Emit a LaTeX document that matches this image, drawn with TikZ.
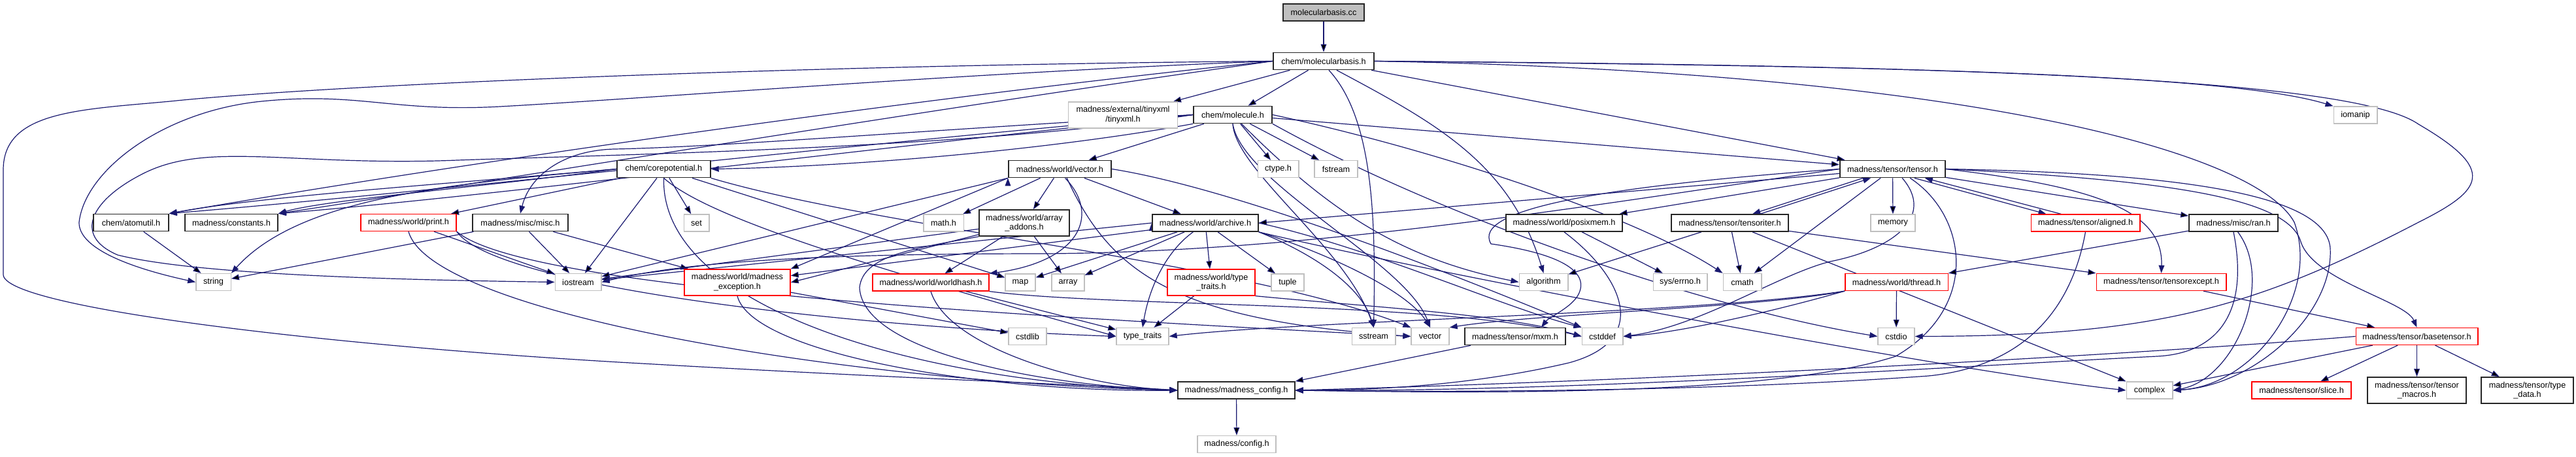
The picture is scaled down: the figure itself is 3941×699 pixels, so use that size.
\documentclass[tikz,border=0pt]{standalone}
\usepackage{fontspec}
\setmainfont{Liberation Sans}
\usetikzlibrary{arrows.meta}
\definecolor{edgeblue}{HTML}{191970}
\definecolor{sysgray}{HTML}{BFBFBF}
\pgfdeclarelayer{edges}
\pgfsetlayers{edges,main}
\tikzset{
  box/.style={fill=white,line width=1pt,inner sep=2pt,minimum height=19.5pt,align=center,font=\fontsize{9.5}{11}\selectfont},
  hdr/.style={box,draw=black!85,line width=1.3pt},
  sys/.style={box,draw=sysgray},
  undoc/.style={box,draw=red},
  root/.style={box,draw=black!85,line width=1.3pt,fill=sysgray},
  two/.style={minimum height=30pt},
  dep/.style={draw=edgeblue,line width=0.9pt,-{Triangle[length=9pt,width=6.5pt]}}
}
\begin{document}
\begin{tikzpicture}[x=0.75pt,y=0.75pt]
\useasboundingbox (0,0) rectangle (3941,-699);
\node[root,minimum width=93pt] (cc) at (2025,-19) {molecularbasis.cc};
\node[hdr,minimum width=115.5pt] (mbh) at (2025,-93.5) {chem/molecularbasis.h};
\node[sys,two,minimum width=125pt] (tinyxml) at (1718,-176) {madness/external/tinyxml\\/tinyxml.h};
\node[hdr,minimum width=90pt] (mol) at (1886,-175.5) {chem/molecule.h};
\node[sys,minimum width=50pt] (iomanip) at (3603.5,-176) {iomanip};
\node[hdr,minimum width=107pt] (core) at (1015.5,-258.5) {chem/corepotential.h};
\node[hdr,minimum width=118pt] (wvec) at (1621.5,-258.5) {madness/world/vector.h};
\node[sys,minimum width=47pt] (ctype) at (1955.5,-258.5) {ctype.h};
\node[sys,minimum width=49.5pt] (fstream) at (2044,-258.5) {fstream};
\node[hdr,minimum width=121pt] (tensor) at (2895.5,-258.5) {madness/tensor/tensor.h};
\node[hdr,minimum width=86pt] (atomutil) at (200.5,-340.5) {chem/atomutil.h};
\node[hdr,minimum width=106.5pt] (constants) at (354,-340.5) {madness/constants.h};
\node[undoc,minimum width=109.5pt] (print) at (625,-340.5) {madness/world/print.h};
\node[hdr,minimum width=109.5pt] (misc) at (796,-340.5) {madness/misc/misc.h};
\node[sys,minimum width=29pt] (set) at (1065.5,-341) {set};
\node[sys,minimum width=46pt] (math) at (1443.5,-341) {math.h};
\node[hdr,two,minimum width=103.5pt] (addons) at (1567,-341) {madness/world/array\\\_addons.h};
\node[hdr,minimum width=121.5pt] (archive) at (1844,-341) {madness/world/archive.h};
\node[hdr,minimum width=133.5pt] (posixmem) at (2393,-341) {madness/world/posixmem.h};
\node[hdr,minimum width=134pt] (tensoriter) at (2646.5,-341) {madness/tensor/tensoriter.h};
\node[sys,minimum width=51pt] (memory) at (2896,-341) {memory};
\node[undoc,minimum width=125pt] (aligned) at (3190.5,-341) {madness/tensor/aligned.h};
\node[hdr,minimum width=102pt] (ran) at (3417,-341) {madness/misc/ran.h};
\node[sys,minimum width=40pt] (string) at (326.5,-431.5) {string};
\node[sys,minimum width=53pt] (iostream) at (884.5,-431.5) {iostream};
\node[undoc,two,minimum width=121.5pt] (except) at (1128,-432) {madness/world/madness\\\_exception.h};
\node[undoc,minimum width=133.5pt] (worldhash) at (1424,-432) {madness/world/worldhash.h};
\node[sys,minimum width=34.5pt] (map) at (1561,-432) {map};
\node[sys,minimum width=37.5pt] (array) at (1634,-432) {array};
\node[undoc,two,minimum width=100.5pt] (wtraits) at (1853,-432) {madness/world/type\\\_traits.h};
\node[sys,minimum width=37.5pt] (tuple) at (1970,-432) {tuple};
\node[sys,minimum width=56pt] (algorithm) at (2361.5,-431.5) {algorithm};
\node[sys,minimum width=62pt] (errno) at (2570.5,-431.5) {sys/errno.h};
\node[sys,minimum width=44pt] (cmath) at (2665.5,-431.5) {cmath};
\node[undoc,minimum width=118pt] (thread) at (2901.5,-431.5) {madness/world/thread.h};
\node[undoc,minimum width=149pt] (tensorexcept) at (3306.5,-431.5) {madness/tensor/tensorexcept.h};
\node[sys,minimum width=43.5pt] (cstdlib) at (1572,-514.5) {cstdlib};
\node[sys,minimum width=60pt] (typetraits) at (1748,-514.5) {type\_traits};
\node[sys,minimum width=50pt] (sstream) at (2101.5,-514.5) {sstream};
\node[sys,minimum width=43.5pt] (vector) at (2188,-514.5) {vector};
\node[hdr,minimum width=115.5pt] (mxm) at (2318,-514.5) {madness/tensor/mxm.h};
\node[sys,minimum width=47pt] (cstddef) at (2451.5,-514.5) {cstddef};
\node[sys,minimum width=42pt] (cstdio) at (2901,-514.5) {cstdio};
\node[undoc,minimum width=140pt] (basetensor) at (3697.5,-514.5) {madness/tensor/basetensor.h};
\node[hdr,minimum width=134pt] (config) at (1891.5,-597) {madness/madness\_config.h};
\node[sys,minimum width=53pt] (complex) at (3288.5,-597) {complex};
\node[undoc,minimum width=114pt] (slice) at (3521,-597) {madness/tensor/slice.h};
\node[hdr,two,minimum width=113pt] (macros) at (3697.5,-597) {madness/tensor/tensor\\\_macros.h};
\node[hdr,two,minimum width=106pt] (typedata) at (3866.5,-597) {madness/tensor/type\\\_data.h};
\node[sys,minimum width=90pt] (madconfig) at (1892,-679.5) {madness/config.h};

\begin{pgfonlayer}{edges}
\path[dep] (cc) edge (mbh);
\path[dep] (mbh) edge (mol) edge (tinyxml) edge (tensor);
\draw[dep] ([xshift=15pt]mbh.south) .. controls (2200,-190) and (2310,-250) .. (algorithm.north);
\draw[dep] (mbh.west) .. controls (1400,-150) and (700,-250) .. (atomutil.north east);
\draw[dep] (mbh.west) .. controls (1400,-170) and (800,-270) .. (constants.north east);
\draw[dep] (mbh.east) .. controls (2800,-100) and (3400,-110) .. (iomanip.north west);
\draw[dep] ([xshift=6pt]mbh.south) .. controls (2100,-180) and (2105,-330) .. (sstream.north);
\draw[dep] (mbh.east) .. controls (3000,-100) and (3600,-120) .. (3700,-190) .. controls (3820,-260) and (3800,-290) .. (3700,-340) .. controls (3450,-470) and (3300,-514) .. (cstdio.east);
\draw[dep] (mbh.east) .. controls (3000,-110) and (3450,-230) .. (3510,-340) .. controls (3550,-450) and (3450,-590) .. (complex.east);
\draw[dep] (mbh.west) .. controls (1200,-100) and (500,-130) .. (260,-155) .. controls (120,-168) and (5,-170) .. (5,-260) -- (5,-420) .. controls (5,-470) and (500,-530) .. (1000,-557) .. controls (1400,-580) and (1700,-590) .. (config.west);
\draw[dep] (mbh.west) .. controls (1500,-110) and (1000,-150) .. (765,-163) .. controls (600,-172) and (550,-140) .. (400,-155) .. controls (250,-170) and (130,-260) .. (121,-340) .. controls (120,-380) and (200,-410) .. (string.west);

\path[dep] (mol) edge (wvec) edge (ctype) edge (fstream) edge (tensor);
\draw[dep] (mol.east) .. controls (2200,-230) and (2500,-330) .. (cmath.north west);
\draw[dep] ([xshift=10pt]mol.south) .. controls (2030,-320) and (2140,-395) .. (algorithm.west);
\draw[dep] (mol.south east) .. controls (2200,-330) and (2600,-470) .. (cstdio.west);
\draw[dep] (mol.south west) .. controls (1600,-230) and (1300,-255) .. (core.east);
\draw[dep] (mol.west) .. controls (1300,-220) and (700,-290) .. (atomutil.north east);
\draw[dep] (mol.west) .. controls (1300,-230) and (750,-300) .. (constants.north east);
\draw[dep] (mol.west) .. controls (1400,-200) and (1100,-225) .. (940,-228) .. controls (860,-230) and (810,-270) .. (misc.north);
\draw[dep] (mol.west) .. controls (1500,-225) and (1000,-235) .. (700,-245) .. controls (450,-255) and (320,-215) .. (220,-265) .. controls (140,-305) and (110,-360) .. (180,-390) .. controls (300,-420) and (600,-428) .. (iostream.west);
\draw[dep] (mol.south) .. controls (1890,-260) and (2060,-380) .. (sstream.north);
\draw[dep] (mol.south) .. controls (1900,-280) and (2150,-400) .. (vector.north);

\path[dep] (core) edge (print) edge (set) edge (iostream) edge (map);
\draw[dep] (core.west) .. controls (700,-280) and (400,-300) .. (atomutil.north east);
\draw[dep] (core.west) .. controls (750,-285) and (500,-305) .. (constants.north east);
\draw[dep] (core.west) .. controls (700,-280) and (460,-300) .. (string.north east);
\draw[dep] (core.south) .. controls (1080,-330) and (1300,-400) .. (typetraits.west);
\draw[dep] (core.south east) .. controls (1350,-350) and (1900,-400) .. (vector.north west);
\draw[dep] (core.south) .. controls (1010,-470) and (1400,-585) .. (config.west);

\path[dep] (print) edge (iostream);
\draw[dep] (print.south) .. controls (660,-480) and (1300,-585) .. (config.west);
\draw[dep] (print.south east) .. controls (760,-440) and (1300,-500) .. (typetraits.west);
\draw[dep] (print.south east) .. controls (800,-440) and (1500,-480) .. (vector.west);
\path[dep] (misc) edge (string) edge (iostream) edge (except);
\path[dep] (atomutil) edge (string);

\path[dep] (wvec) edge (math) edge (addons) edge (archive);
\path[dep] (wvec.south west) edge (except.north east) edge (iostream);
\draw[dep] ([xshift=6pt]wvec.south) .. controls (1685,-330) and (1650,-400) .. (worldhash.north east);
\draw[dep] ([xshift=8pt]wvec.south) .. controls (1700,-420) and (1800,-490) .. (vector.west);
\draw[dep] (wvec.east) .. controls (1900,-290) and (2250,-430) .. (cstddef.north west);

\path[dep] (addons) edge (worldhash) edge (array) edge (except.east) edge (iostream);
\draw[dep] (addons.south west) .. controls (1400,-380) and (1320,-390) .. (1315,-440) .. controls (1320,-540) and (1600,-590) .. (config.west);

\path[dep] (archive) edge (map) edge (array) edge (wtraits) edge (tuple) edge (except);
\path[dep] (archive.west) edge (iostream);
\draw[dep] (archive.east) .. controls (2100,-380) and (2300,-470) .. (cstddef.north west);
\draw[dep] ([xshift=-14pt]archive.south) .. controls (1790,-380) and (1760,-430) .. (typetraits.north);
\draw[dep] (archive.south east) .. controls (1990,-380) and (2080,-430) .. (sstream.north);
\draw[dep] (archive.south east) .. controls (2010,-380) and (2150,-440) .. (vector.north);
\draw[dep] (archive.south east) .. controls (2200,-420) and (3000,-570) .. (complex.west);

\path[dep] (worldhash) edge (typetraits);
\draw[dep] (worldhash.south) .. controls (1450,-530) and (1650,-590) .. (config.west);
\draw[dep] (worldhash.south east) .. controls (1700,-470) and (2200,-460) .. (cstddef.west);
\path[dep] (wtraits) edge (typetraits);
\draw[dep] (wtraits.south east) .. controls (2100,-470) and (2300,-480) .. (cstddef.west);
\path[dep] (except) edge (cstdlib);
\draw[dep] (except.south) .. controls (1150,-540) and (1500,-600) .. (config.west);

\path[dep] (tensor) edge (posixmem) edge (memory) edge (cmath) edge (ran) edge (archive.east);
\draw[dep] ([xshift=-34pt]tensor.south) -- ([xshift=26pt]tensoriter.north);
\draw[dep] ([xshift=35pt]tensoriter.north) -- ([xshift=-25pt]tensor.south);
\draw[dep] ([xshift=25pt]tensor.south) -- ([xshift=-45pt]aligned.north);
\draw[dep] ([xshift=-28pt]aligned.north) -- ([xshift=37pt]tensor.south);
\draw[dep] (tensor.west) .. controls (2400,-320) and (2000,-385) .. (1600,-388) .. controls (1250,-388) and (1050,-400) .. (iostream.east);
\draw[dep] (tensor.west) .. controls (2450,-285) and (2250,-320) .. (2281,-373) .. controls (2400,-390) and (2430,-420) .. (2415,-450) .. controls (2405,-470) and (2370,-485) .. ([xshift=30pt]mxm.north);
\draw[dep] (tensor.east) .. controls (3200,-285) and (3310,-320) .. (tensorexcept.north);
\draw[dep] (tensor.east) .. controls (3300,-275) and (3500,-300) .. (3520,-370) .. controls (3540,-430) and (3680,-460) .. (basetensor.north);
\draw[dep] (tensor.east) .. controls (3350,-265) and (3560,-300) .. (3565,-380) .. controls (3570,-480) and (3450,-590) .. (complex.east);
\draw[dep] ([xshift=11pt]tensor.south) .. controls (2960,-330) and (2900,-380) .. (2800,-400) .. controls (2720,-420) and (2600,-500) .. (cstddef.east);
\draw[dep] ([xshift=20pt]tensor.south) .. controls (3010,-330) and (3030,-470) .. (2900,-545) .. controls (2700,-610) and (2200,-600) .. (config.east);

\path[dep] (tensoriter) edge (cmath) edge (algorithm) edge (tensorexcept.north west) edge (complex.north west);
\path[dep] (posixmem) edge (errno);
\draw[dep] (posixmem.south) .. controls (2480,-420) and (2530,-520) .. (2400,-555) .. controls (2250,-590) and (2100,-597) .. (config.east);
\draw[dep] (aligned.south) .. controls (3170,-470) and (3100,-560) .. (2950,-575) .. controls (2600,-600) and (2200,-600) .. (config.east);
\path[dep] (ran) edge (thread.north east);
\draw[dep] ([xshift=5pt]ran.south) .. controls (3480,-430) and (3420,-580) .. (complex.east);
\draw[dep] (ran.south) .. controls (3440,-470) and (3400,-540) .. (3300,-545) .. controls (3000,-560) and (2400,-600) .. (config.east);

\path[dep] (thread) edge (cstdio);
\draw[dep] (thread.south west) .. controls (2700,-470) and (2350,-480) .. (vector.north east);
\draw[dep] (thread.south west) .. controls (2700,-480) and (2560,-510) .. (cstddef.east);
\draw[dep] (thread.south west) .. controls (2600,-480) and (2000,-490) .. (typetraits.east);
\path[dep] (tensorexcept) edge (basetensor);
\path[dep] (basetensor) edge (slice) edge (macros) edge (typedata) edge (complex);
\draw[dep] (basetensor.west) .. controls (3300,-540) and (2600,-580) .. (config.east);
\path[dep] (mxm) edge (config.north east);
\path[dep] (config) edge (madconfig);
\end{pgfonlayer}
\end{tikzpicture}
\end{document}
